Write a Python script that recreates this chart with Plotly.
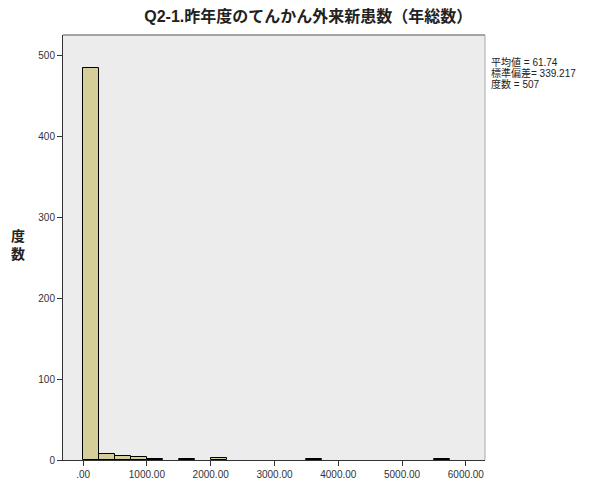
import plotly.graph_objects as go

bin_starts = [0, 250, 500, 750, 1000, 1500, 2000, 3500, 5500]
counts = [484, 8, 5, 4, 1, 1, 2, 1, 1]
bin_width = 250
x_tick_vals = [0, 1000, 2000, 3000, 4000, 5000, 6000]
x_tick_text = [".00", "1000.00", "2000.00", "3000.00", "4000.00", "5000.00", "6000.00"]
y_tick_vals = [0, 100, 200, 300, 400, 500]
title = "Q2-1.昨年度のてんかん外来新患数（年総数）"
stats_lines = ["平均値 = 61.74", "標準偏差= 339.217", "度数 = 507"]
y_title = "度<br>数"

centers = [s + bin_width / 2 for s in bin_starts]

fig = go.Figure()
fig.add_trace(go.Bar(
    x=centers, y=counts, width=[bin_width] * len(counts),
    marker=dict(color="#d4cf98", line=dict(color="black", width=1)),
    hoverinfo="x+y",
))

font_family = "Liberation Sans, Noto Sans CJK JP, sans-serif"
annotations = [
    dict(text="<b>" + y_title + "</b>", xref="paper", yref="paper", x=-0.107, y=0.505,
         xanchor="center", yanchor="middle", showarrow=False,
         font=dict(size=14, color="#222222")),
]
stats_y = [0.936, 0.910, 0.884]
for line, yy in zip(stats_lines, stats_y):
    annotations.append(dict(text=line, xref="paper", yref="paper", x=1.012, y=yy,
                            xanchor="left", yanchor="middle", showarrow=False, borderpad=0,
                            font=dict(size=10, color="#222222")))

# page body has an 8px default margin, so the figure is sized to fit the window
fig.update_layout(
    width=583, height=471,
    margin=dict(l=55, r=106, t=27, b=19, autoexpand=False),
    paper_bgcolor="white",
    plot_bgcolor="#ececec",
    showlegend=False,
    bargap=0,
    font=dict(family=font_family, size=10, color="#333333"),
    title=dict(text="<b>" + title + "</b>", x=0.515, xanchor="center", xref="container",
               y=0.995, yanchor="top", yref="container",
               font=dict(size=16, color="#222222", family=font_family)),
    xaxis=dict(range=[-315, 6300], tickvals=x_tick_vals, ticktext=x_tick_text, automargin=False,
               showgrid=False, zeroline=False, showline=True, linecolor="#333333", linewidth=1,
               ticks="outside", ticklen=5, tickcolor="#333333", mirror=False),
    yaxis=dict(range=[0, 525], tickvals=y_tick_vals, automargin=False,
               showgrid=False, zeroline=False, showline=True, linecolor="#333333", linewidth=1,
               ticks="outside", ticklen=5, tickcolor="#333333"),
    shapes=[
        dict(type="line", xref="paper", yref="paper", x0=0, x1=1, y0=1, y1=1,
             line=dict(color="#888888", width=1.5)),
        dict(type="line", xref="paper", yref="paper", x0=1, x1=1, y0=0, y1=1,
             line=dict(color="#aaaaaa", width=1)),
    ],
    annotations=annotations,
)

fig.write_html("out.html")
